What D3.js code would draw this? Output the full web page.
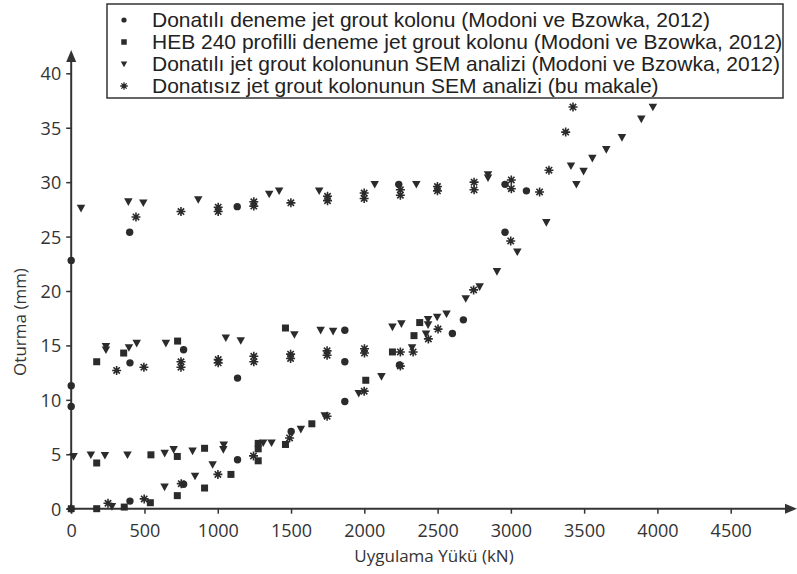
<!DOCTYPE html>
<html>
<head>
<meta charset="utf-8">
<script src="https://cdn.jsdelivr.net/npm/d3@7"></script>
<style>
  body { margin: 0; background: #fff; }
  svg { display: block; }
</style>
</head>
<body>
<svg></svg>
<script>
const size = {w: 797, h: 574};
const svg = d3.select('svg')
    .attr('width', size.w)
    .attr('height', size.h);

// series data, [load kN, settlement mm]
const circleData = [
    [0, 0], [401, 0.7], [767, 2.25], [1135, 4.5], [1501, 7.1], [1867, 9.85],
    [2240, 13.2], [2601, 16.1], [2676, 17.35], [2960, 25.4], [2960, 29.8], [3106, 29.2],
    [2235, 29.8], [1133, 27.75], [399, 25.4], [0, 22.8],
    [1867, 16.4], [1867, 13.5], [1135, 12.0], [767, 14.6], [401, 13.4], [0, 11.3], [0, 9.4]
];
const squareData = [
    [174, 0], [362, 0.15], [540, 0.55], [724, 1.2], [910, 1.9], [1090, 3.15],
    [1276, 4.4], [1276, 5.5], [1276, 6.0], [1462, 5.9], [1642, 7.8], [2010, 11.8],
    [2192, 14.4], [2339, 15.9], [2378, 17.1],
    [174, 13.5], [358, 14.3], [726, 15.4], [1462, 16.6],
    [174, 4.2], [544, 4.95], [724, 4.8], [910, 5.55]
];
const triangleData = [
    [278, 0.2], [637, 2.0], [845, 3.0], [965, 4.05], [1310, 6.05], [1367, 6.05],
    [1567, 7.3], [1730, 8.55], [1962, 10.6], [2117, 12.15], [2326, 14.8], [2421, 16.05],
    [2692, 19.3], [2787, 20.4], [2905, 21.8], [3044, 23.6], [3242, 26.3], [3447, 29.8],
    [3410, 31.5], [3496, 31.0], [3556, 32.2], [3651, 33.0], [3758, 34.1], [3890, 35.8], [3969, 36.9],
    [16, 4.8], [134, 4.95], [230, 4.9], [384, 4.95], [638, 5.1], [699, 5.45],
    [828, 5.3], [1038, 5.45], [1041, 5.85],
    [237, 14.9], [237, 14.6], [394, 14.8], [447, 15.2], [646, 15.2], [1055, 15.7],
    [1157, 15.45], [1523, 16.0], [1702, 16.4], [1787, 16.3], [2192, 16.7], [2253, 17.0],
    [2435, 17.4], [2435, 16.9], [2497, 17.6], [2561, 17.9],
    [67, 27.6], [390, 28.2], [492, 28.1], [867, 28.4], [1351, 28.9], [1419, 29.2],
    [1692, 29.2], [2071, 29.8], [2355, 29.8], [2844, 30.7], [2844, 30.4]
];
const starData = [
    [0, 0], [251, 0.5], [498, 0.9], [751, 2.3], [1001, 3.15], [1244, 4.85],
    [1490, 6.5], [1746, 8.5], [1999, 10.8], [2246, 13.1], [2333, 14.4], [2437, 15.6],
    [2746, 20.1], [2999, 24.6], [3374, 34.6], [3424, 36.9],
    [310, 12.7], [496, 13.0], [749, 13.5], [749, 13.0], [1003, 13.7], [1003, 13.4],
    [1246, 14.0], [1246, 13.5], [1497, 14.2], [1497, 13.8], [1746, 14.5], [1746, 14.1],
    [2001, 14.7], [2001, 14.3], [2246, 14.4], [2503, 16.5],
    [442, 26.8], [749, 27.3], [1003, 27.7], [1003, 27.3], [1246, 28.2], [1246, 27.8],
    [1499, 28.1], [1749, 28.7], [1749, 28.3], [1999, 29.0], [1999, 28.5],
    [2246, 29.3], [2246, 28.8], [2499, 29.6], [2499, 29.2], [2749, 30.0], [2749, 29.3],
    [3003, 30.2], [3003, 29.4], [3196, 29.1], [3260, 31.1]
];

const xTicks = [0, 500, 1000, 1500, 2000, 2500, 3000, 3500, 4000, 4500];
const yTicks = [0, 5, 10, 15, 20, 25, 30, 35, 40];
const legendLabels = [
    'Donatılı deneme jet grout kolonu (Modoni ve Bzowka, 2012)',
    'HEB 240 profilli deneme jet grout kolonu (Modoni ve Bzowka, 2012)',
    'Donatılı jet grout kolonunun SEM analizi (Modoni ve Bzowka, 2012)',
    'Donatısız jet grout kolonunun SEM analizi (bu makale)'
];

const ink = '#2b2b2b';
const axisInk = '#333';
const tickFont = '"Open Sans", sans-serif';

// scales
const x = d3.scaleLinear().domain([0, 4500]).range([71.2, 730.7]);
const y = d3.scaleLinear().domain([0, 40]).range([508.7, 73.3]);

// axes
const xAxis = d3.axisBottom(x).tickValues(xTicks).tickFormat(d3.format('d'))
    .tickSize(5).tickSizeOuter(0);
const yAxis = d3.axisLeft(y).tickValues(yTicks).tickFormat(d3.format('d'))
    .tickSize(5).tickSizeOuter(0);

const xG = svg.append('g')
    .attr('transform', `translate(0,${y(0)})`)
    .call(xAxis);
const yG = svg.append('g')
    .attr('transform', `translate(${x(0)},0)`)
    .call(yAxis);

[xG, yG].forEach(g => {
    g.select('.domain').remove();
    g.selectAll('.tick line').attr('stroke', axisInk).attr('stroke-width', 1.5);
    g.selectAll('.tick text')
        .attr('fill', '#333')
        .style('font-family', tickFont)
        .style('font-size', '18px');
});
xG.selectAll('.tick text').attr('y', 28).attr('dy', 0);
yG.selectAll('.tick text').attr('x', -10).attr('dy', '0.36em');

// axis lines with arrows
svg.append('line')
    .attr('x1', x(0)).attr('x2', 788)
    .attr('y1', y(0)).attr('y2', y(0))
    .attr('stroke', axisInk).attr('stroke-width', 2);
svg.append('path')
    .attr('d', `M797,${y(0)} L785,${y(0) - 5} L785,${y(0) + 5} Z`)
    .attr('fill', axisInk);
svg.append('line')
    .attr('x1', x(0)).attr('x2', x(0))
    .attr('y1', y(0)).attr('y2', 60)
    .attr('stroke', axisInk).attr('stroke-width', 2);
svg.append('path')
    .attr('d', `M${x(0)},50 L${x(0) - 5},62 L${x(0) + 5},62 Z`)
    .attr('fill', axisInk);

// axis titles
svg.append('text')
    .attr('x', 434).attr('y', 562)
    .attr('text-anchor', 'middle')
    .attr('fill', '#333')
    .style('font-family', tickFont)
    .style('font-size', '17px')
    .text('Uygulama Yükü (kN)');
svg.append('text')
    .attr('transform', 'translate(26,322) rotate(-90)')
    .attr('text-anchor', 'middle')
    .attr('fill', '#333')
    .style('font-family', tickFont)
    .style('font-size', '17px')
    .text('Oturma (mm)');

// marker drawing
function drawCircle(g, cx, cy, r) {
    g.append('circle').attr('cx', cx).attr('cy', cy).attr('r', r).attr('fill', ink);
}
function drawSquare(g, cx, cy, s) {
    g.append('rect').attr('x', cx - s / 2).attr('y', cy - s / 2)
        .attr('width', s).attr('height', s).attr('fill', ink);
}
function drawTriangle(g, cx, cy, s) {
    g.append('path')
        .attr('d', `M${cx - s / 2},${cy - s * 0.4} L${cx + s / 2},${cy - s * 0.4} L${cx},${cy + s * 0.5} Z`)
        .attr('fill', ink);
}
function drawStar(g, cx, cy, s, w = 1.6) {
    const r = s / 2;
    let d = '';
    [0, 45, 90, 135].forEach(a => {
        const rad = a * Math.PI / 180;
        d += `M${cx - r * Math.cos(rad)},${cy - r * Math.sin(rad)} L${cx + r * Math.cos(rad)},${cy + r * Math.sin(rad)} `;
    });
    g.append('path').attr('d', d).attr('stroke', ink).attr('stroke-width', w);
    g.append('circle').attr('cx', cx).attr('cy', cy).attr('r', s * 0.22).attr('fill', ink);
}

const marksG = svg.append('g').classed('marks', true);
circleData.forEach(d => drawCircle(marksG, x(d[0]), y(d[1]), 3.7));
squareData.forEach(d => drawSquare(marksG, x(d[0]), y(d[1]), 7));
triangleData.forEach(d => drawTriangle(marksG, x(d[0]), y(d[1]), 8.5));
starData.forEach(d => drawStar(marksG, x(d[0]), y(d[1]), 9));

// legend
const legendG = svg.append('g').classed('legend', true);
legendG.append('rect')
    .attr('x', 107).attr('y', 4)
    .attr('width', 676).attr('height', 94)
    .attr('fill', '#fff')
    .attr('stroke', axisInk).attr('stroke-width', 1.5);

const legendDrawers = [
    (cx, cy) => drawCircle(legendG, cx, cy, 2.6),
    (cx, cy) => drawSquare(legendG, cx, cy, 5.5),
    (cx, cy) => drawTriangle(legendG, cx, cy, 6.5),
    (cx, cy) => drawStar(legendG, cx, cy, 7.5, 1.3)
];
legendLabels.forEach((label, i) => {
    const baseY = 27 + i * 22;
    legendDrawers[i](124, baseY - 7);
    legendG.append('text')
        .attr('x', 152).attr('y', baseY)
        .attr('fill', '#222')
        .style('font-family', '"Liberation Sans", Arial, sans-serif')
        .style('font-size', '21px')
        .text(label);
});
</script>
</body>
</html>
